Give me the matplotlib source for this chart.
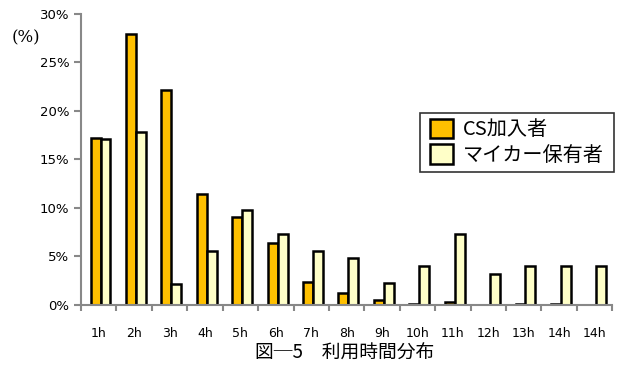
import numpy as np
import matplotlib
matplotlib.use("Agg")
import matplotlib.pyplot as plt
from matplotlib.ticker import PercentFormatter

plt.rcParams['font.family'] = ['DejaVu Sans', 'Noto Sans CJK JP']

categories = ["1h", "2h", "3h", "4h", "5h", "6h", "7h", "8h", "9h", "10h",
              "11h", "12h", "13h", "14h", "14h"]
cs_member = [17.2, 27.9, 22.2, 11.4, 9.1, 6.4, 2.4, 1.2, 0.5, 0.1,
             0.3, 0.0, 0.1, 0.1, 0.0]
car_owner = [17.1, 17.8, 2.2, 5.6, 9.8, 7.3, 5.6, 4.8, 2.3, 4.0,
             7.3, 3.2, 4.0, 4.0, 4.0]
series_names = ["CS加入者", "マイカー保有者"]
colors = ["#FFC000", "#FFFFC8"]

fig = plt.figure(figsize=(6.19, 3.67), dpi=100)
ax = fig.add_axes([0.131, 0.169, 0.858, 0.793])

x = np.arange(len(categories))
w = 0.28
ax.bar(x - w / 2 + 0.05, cs_member, width=w, color=colors[0], edgecolor="black",
       linewidth=1.8, label=series_names[0])
ax.bar(x + w / 2 + 0.05, car_owner, width=w, color=colors[1], edgecolor="black",
       linewidth=1.8, label=series_names[1])

ax.set_xlim(-0.5, len(categories) - 0.5)
ax.set_ylim(0, 30)
ax.set_yticks(range(0, 31, 5))
ax.yaxis.set_major_formatter(PercentFormatter(decimals=0))
ax.set_xticks(x)
ax.set_xticklabels(categories)
ax.set_xticks(np.arange(-0.5, len(categories)), minor=True)
ax.tick_params(axis="x", which="major", length=0, pad=16, labelsize=9)
ax.tick_params(axis="x", which="minor", length=4, width=1.5, color="#888888",
               direction="out")
ax.tick_params(axis="y", length=5, width=1.5, color="#888888", labelsize=9.5)

for s in ["top", "right"]:
    ax.spines[s].set_visible(False)
for s in ["left", "bottom"]:
    ax.spines[s].set_color("#888888")
    ax.spines[s].set_linewidth(1.5)

fig.text(0.018, 0.885, "(%)", fontsize=12, family="DejaVu Serif")

leg = ax.legend(loc="upper left", bbox_to_anchor=(0.638, 0.66), fontsize=14.5,
                frameon=True, fancybox=False, edgecolor="black",
                handlelength=1.1, handleheight=1.1, handletextpad=0.5,
                borderpad=0.3, labelspacing=0.2, borderaxespad=0)
leg.get_frame().set_linewidth(1.2)
for t in leg.get_texts():
    t.set_family(["Noto Sans CJK JP", "DejaVu Sans"])
leg._legend_box.set_width(182)

fig.text(0.556, 0.038, "図─5　利用時間分布", ha="center", va="center",
         fontsize=13.5, family=["Noto Sans CJK JP", "DejaVu Sans"])

fig.savefig("out.png", dpi=100)
